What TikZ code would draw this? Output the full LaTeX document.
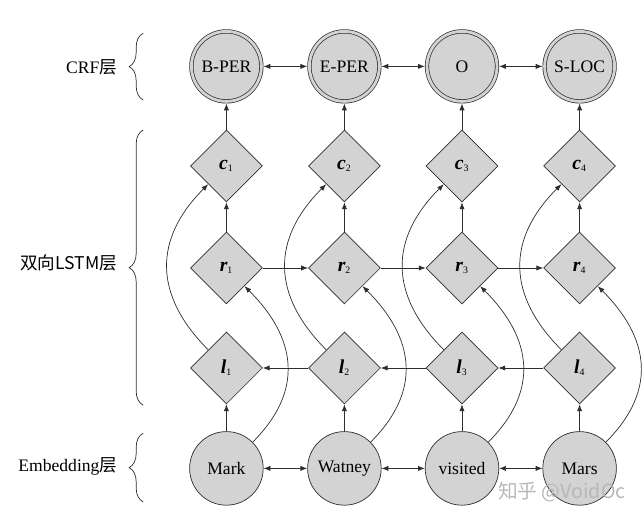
\documentclass[tikz,border=0pt]{standalone}
\usepackage{fontspec}
\setmainfont{Liberation Serif}
\newfontfamily\cjk{Noto Sans CJK SC}
\usetikzlibrary{arrows.meta,positioning,shapes.geometric,decorations.pathreplacing}
\definecolor{nodegray}{HTML}{D3D3D3}
\definecolor{linegray}{HTML}{2E2E2E}
\newcommand{\cellvar}[2]{{\fontsize{14}{16}\selectfont\bfseries\itshape #1}\textsubscript{#2}}

\begin{document}
\begin{tikzpicture}[x=1cm,y=1cm]
\tikzset{
  tagnode/.style={circle,draw=linegray,fill=nodegray,double=nodegray,double distance=2pt,line width=0.5pt,minimum size=17.5mm,inner sep=1pt,outer sep=1.5pt,font=\fontsize{12.5}{14}\selectfont},
  wordnode/.style={circle,draw=linegray,fill=nodegray,line width=0.5pt,minimum size=18.4mm,inner sep=1pt,font=\fontsize{12.5}{14}\selectfont},
  cellnode/.style={diamond,draw=linegray,fill=nodegray,line width=0.5pt,minimum size=18mm,inner sep=0pt},
  layerlabel/.style={anchor=east,font=\fontsize{12.5}{14}\selectfont},
  directed/.style={-{Latex[length=1.7mm,width=1.3mm]},draw=linegray,line width=0.5pt},
  bidirected/.style={{Latex[length=1.7mm,width=1.3mm]}-{Latex[length=1.7mm,width=1.3mm]},draw=linegray,line width=0.5pt},
  layerbrace/.style={decorate,decoration={brace,amplitude=10pt},draw=linegray,line width=0.5pt}
}
\useasboundingbox (0,0) rectangle (16.1,13);
% CRF layer
\node[tagnode] (n_BPER) at (5.66,11.34) {B-PER};
\node[tagnode] (n_EPER) at (8.61,11.34) {E-PER};
\node[tagnode] (n_O) at (11.55,11.34) {O};
\node[tagnode] (n_SLOC) at (14.49,11.34) {S-LOC};
% concatenated states
\node[cellnode] (n_c1) at (5.66,8.85) {\cellvar{c}{1}};
\node[cellnode] (n_c2) at (8.61,8.85) {\cellvar{c}{2}};
\node[cellnode] (n_c3) at (11.55,8.85) {\cellvar{c}{3}};
\node[cellnode] (n_c4) at (14.49,8.85) {\cellvar{c}{4}};
% backward states
\node[cellnode] (n_r1) at (5.66,6.30) {\cellvar{r}{1}};
\node[cellnode] (n_r2) at (8.61,6.30) {\cellvar{r}{2}};
\node[cellnode] (n_r3) at (11.55,6.30) {\cellvar{r}{3}};
\node[cellnode] (n_r4) at (14.49,6.30) {\cellvar{r}{4}};
% forward states
\node[cellnode] (n_l1) at (5.66,3.80) {\cellvar{l}{1}};
\node[cellnode] (n_l2) at (8.61,3.80) {\cellvar{l}{2}};
\node[cellnode] (n_l3) at (11.55,3.80) {\cellvar{l}{3}};
\node[cellnode] (n_l4) at (14.49,3.80) {\cellvar{l}{4}};
% embedding layer
\node[wordnode] (n_Mark) at (5.66,1.29) {Mark};
\node[wordnode] (n_Watney) at (8.61,1.29) {Watney};
\node[wordnode] (n_visited) at (11.55,1.29) {visited};
\node[wordnode] (n_Mars) at (14.49,1.29) {Mars};
% layer labels
\node[layerlabel] (t_crf) at (3.05,11.32) {CRF{\cjk 层}};
\node[layerlabel] (t_lstm) at (3.05,6.42) {\cjk 双向LSTM层};
\node[layerlabel] (t_emb) at (3.05,1.34) {Embedding{\cjk 层}};
\node[font=\cjk\fontsize{14}{16}\selectfont,text=black!28] (t_mark) at (14.05,0.70) {知乎 @VoidOc};
\draw[layerbrace] (3.58,10.50) -- (3.58,12.17);
\draw[layerbrace] (3.58,2.87) -- (3.58,9.75);
\draw[layerbrace] (3.58,0.45) -- (3.58,2.17);
% tag links
\draw[bidirected] (n_BPER) -- (n_EPER);
\draw[bidirected] (n_EPER) -- (n_O);
\draw[bidirected] (n_O) -- (n_SLOC);
\draw[bidirected] (n_Mark) -- (n_Watney);
\draw[bidirected] (n_Watney) -- (n_visited);
\draw[bidirected] (n_visited) -- (n_Mars);
% vertical links
\draw[directed] (n_c1) -- (n_BPER);
\draw[directed] (n_c2) -- (n_EPER);
\draw[directed] (n_c3) -- (n_O);
\draw[directed] (n_c4) -- (n_SLOC);
\draw[directed] (n_r1) -- (n_c1);
\draw[directed] (n_r2) -- (n_c2);
\draw[directed] (n_r3) -- (n_c3);
\draw[directed] (n_r4) -- (n_c4);
\draw[directed] (n_Mark) -- (n_l1);
\draw[directed] (n_Watney) -- (n_l2);
\draw[directed] (n_visited) -- (n_l3);
\draw[directed] (n_Mars) -- (n_l4);
% recurrent links
\draw[directed] (n_r1) -- (n_r2);
\draw[directed] (n_r2) -- (n_r3);
\draw[directed] (n_r3) -- (n_r4);
\draw[directed] (n_l2) -- (n_l1);
\draw[directed] (n_l3) -- (n_l2);
\draw[directed] (n_l4) -- (n_l3);
% skip links
\draw[directed] (n_l1.north west) to[out=135,in=-135,looseness=1.2] (n_c1.south west);
\draw[directed] (n_l2.north west) to[out=135,in=-135,looseness=1.2] (n_c2.south west);
\draw[directed] (n_l3.north west) to[out=135,in=-135,looseness=1.2] (n_c3.south west);
\draw[directed] (n_l4.north west) to[out=135,in=-135,looseness=1.2] (n_c4.south west);
\draw[directed] (n_Mark.north east) to[out=45,in=-45,looseness=1.2] (n_r1.south east);
\draw[directed] (n_Watney.north east) to[out=45,in=-45,looseness=1.2] (n_r2.south east);
\draw[directed] (n_visited.north east) to[out=45,in=-45,looseness=1.2] (n_r3.south east);
\draw[directed] (n_Mars.north east) to[out=45,in=-45,looseness=1.2] (n_r4.south east);
\end{tikzpicture}
\end{document}
